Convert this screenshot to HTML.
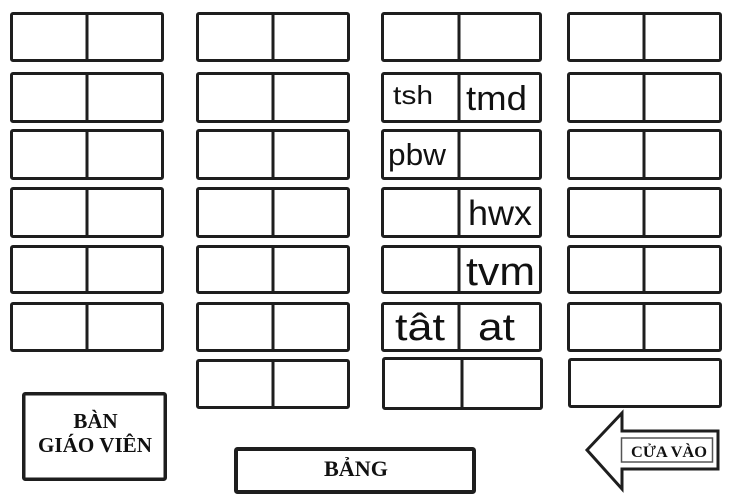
<!DOCTYPE html>
<html>
<head>
<meta charset="utf-8">
<style>
  html,body{margin:0;padding:0;background:#fff;}
  body{width:734px;height:504px;overflow:hidden;}
  svg{display:block;}
  .s{font-family:"Liberation Sans","DejaVu Sans",sans-serif;fill:#111;}
  .b{font-family:"Liberation Serif","DejaVu Serif",serif;font-weight:bold;fill:#111;}
</style>
</head>
<body>
<svg width="734" height="504" viewBox="0 0 734 504" xmlns="http://www.w3.org/2000/svg">
  <g fill="none" stroke="#1e1e1e" stroke-width="3" stroke-linejoin="round">
    <!-- Column 1 -->
    <rect x="11.5" y="13.5" width="151" height="47" rx="1.5"/><line x1="87" y1="12" x2="87" y2="62"/>
    <rect x="11.5" y="73.5" width="151" height="48" rx="1.5"/><line x1="87" y1="72" x2="87" y2="123"/>
    <rect x="11.5" y="130.5" width="151" height="48" rx="1.5"/><line x1="87" y1="129" x2="87" y2="180"/>
    <rect x="11.5" y="188.5" width="151" height="48" rx="1.5"/><line x1="87" y1="187" x2="87" y2="238"/>
    <rect x="11.5" y="246.5" width="151" height="46" rx="1.5"/><line x1="87" y1="245" x2="87" y2="294"/>
    <rect x="11.5" y="303.5" width="151" height="47" rx="1.5"/><line x1="87" y1="302" x2="87" y2="352"/>

    <!-- Column 2 -->
    <rect x="197.5" y="13.5" width="151" height="47" rx="1.5"/><line x1="273" y1="12" x2="273" y2="62"/>
    <rect x="197.5" y="73.5" width="151" height="48" rx="1.5"/><line x1="273" y1="72" x2="273" y2="123"/>
    <rect x="197.5" y="130.5" width="151" height="48" rx="1.5"/><line x1="273" y1="129" x2="273" y2="180"/>
    <rect x="197.5" y="188.5" width="151" height="48" rx="1.5"/><line x1="273" y1="187" x2="273" y2="238"/>
    <rect x="197.5" y="246.5" width="151" height="46" rx="1.5"/><line x1="273" y1="245" x2="273" y2="294"/>
    <rect x="197.5" y="303.5" width="151" height="47" rx="1.5"/><line x1="273" y1="302" x2="273" y2="352"/>
    <rect x="197.5" y="360.5" width="151" height="47" rx="1.5"/><line x1="273" y1="359" x2="273" y2="409"/>

    <!-- Column 3 -->
    <rect x="382.5" y="13.5" width="158" height="47" rx="1.5"/><line x1="459" y1="12" x2="459" y2="62"/>
    <rect x="382.5" y="73.5" width="158" height="48" rx="1.5"/><line x1="459" y1="72" x2="459" y2="123"/>
    <rect x="382.5" y="130.5" width="158" height="48" rx="1.5"/><line x1="459" y1="129" x2="459" y2="180"/>
    <rect x="382.5" y="188.5" width="158" height="48" rx="1.5"/><line x1="459" y1="187" x2="459" y2="238"/>
    <rect x="382.5" y="246.5" width="158" height="46" rx="1.5"/><line x1="459" y1="245" x2="459" y2="294"/>
    <rect x="382.5" y="303.5" width="158" height="47" rx="1.5"/><line x1="459" y1="302" x2="459" y2="352"/>
    <rect x="383.5" y="358.5" width="158" height="50" rx="1.5"/><line x1="462" y1="357" x2="462" y2="410"/>

    <!-- Column 4 -->
    <rect x="568.5" y="13.5" width="152" height="47" rx="1.5"/><line x1="644" y1="12" x2="644" y2="62"/>
    <rect x="568.5" y="73.5" width="152" height="48" rx="1.5"/><line x1="644" y1="72" x2="644" y2="123"/>
    <rect x="568.5" y="130.5" width="152" height="48" rx="1.5"/><line x1="644" y1="129" x2="644" y2="180"/>
    <rect x="568.5" y="188.5" width="152" height="48" rx="1.5"/><line x1="644" y1="187" x2="644" y2="238"/>
    <rect x="568.5" y="246.5" width="152" height="46" rx="1.5"/><line x1="644" y1="245" x2="644" y2="294"/>
    <rect x="568.5" y="303.5" width="152" height="47" rx="1.5"/><line x1="644" y1="302" x2="644" y2="352"/>
    <rect x="569.5" y="359.5" width="151" height="47" rx="1.5"/>
  </g>

  <!-- Teacher desk -->
  <rect x="23.75" y="393.75" width="141.5" height="85.5" fill="none" stroke="#1e1e1e" stroke-width="3.5" rx="1.5"/>
  <text class="b" x="95.5" y="428" font-size="21" text-anchor="middle">BÀN</text>
  <text class="b" x="95" y="452" font-size="21" text-anchor="middle" textLength="114" lengthAdjust="spacingAndGlyphs">GIÁO VIÊN</text>

  <!-- Board -->
  <rect x="236" y="449" width="238" height="43" fill="none" stroke="#1e1e1e" stroke-width="4" rx="1.5"/>
  <text class="b" x="356" y="476" font-size="22" text-anchor="middle" textLength="64" lengthAdjust="spacingAndGlyphs">BẢNG</text>

  <!-- Entrance arrow -->
  <path d="M587,450 L622,413 L622,431 L718,431 L718,469 L622,469 L622,489 Z" fill="#fff" stroke="#1e1e1e" stroke-width="3" stroke-linejoin="miter"/>
  <rect x="621.5" y="438" width="91" height="24" fill="#fff" stroke="#555" stroke-width="1.5"/>
  <text class="b" x="669" y="457" font-size="16" text-anchor="middle" textLength="76" lengthAdjust="spacingAndGlyphs">CỬA VÀO</text>

  <!-- Student labels -->
  <text class="s" x="393" y="104" font-size="26" textLength="40" lengthAdjust="spacingAndGlyphs">tsh</text>
  <text class="s" x="466" y="110" font-size="34" textLength="61" lengthAdjust="spacingAndGlyphs">tmd</text>
  <text class="s" x="388" y="165" font-size="31" textLength="58" lengthAdjust="spacingAndGlyphs">pbw</text>
  <text class="s" x="468" y="225" font-size="35" textLength="64" lengthAdjust="spacingAndGlyphs">hwx</text>
  <text class="s" x="466" y="285" font-size="40" textLength="69" lengthAdjust="spacingAndGlyphs">tvm</text>
  <text class="s" x="395" y="340" font-size="38" textLength="50" lengthAdjust="spacingAndGlyphs">tât</text>
  <text class="s" x="478" y="340" font-size="38" textLength="37" lengthAdjust="spacingAndGlyphs">at</text>
</svg>
</body>
</html>
